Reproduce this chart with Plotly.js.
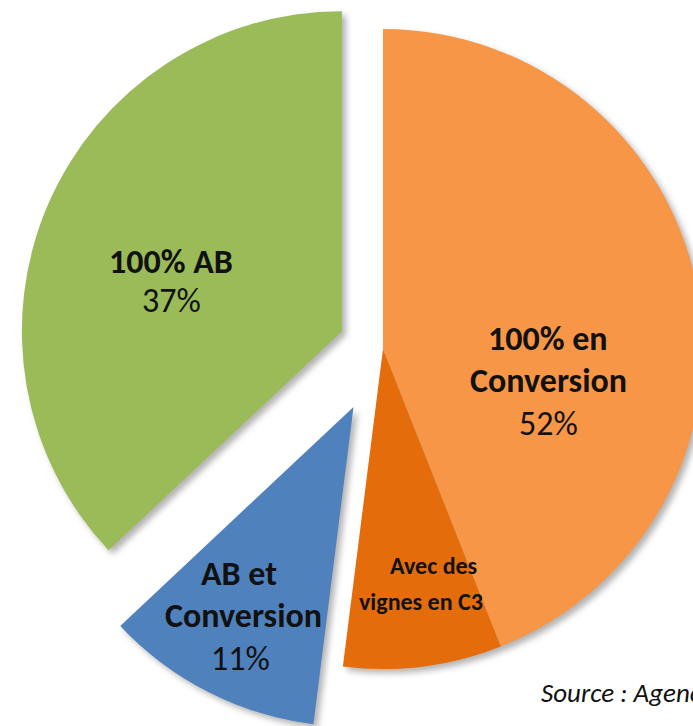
<!DOCTYPE html>
<html>
<head>
<meta charset="utf-8">
<script src="https://cdn.plot.ly/plotly-3.0.1.min.js"></script>
<style>
  html, body { margin: 0; padding: 0; background: #ffffff; overflow: hidden; width: 693px; height: 726px; }
  #chart { position: absolute; left: -100px; top: -100px; width: 900px; height: 900px; }
  #chart .main-svg:first-child { filter: drop-shadow(4px 4px 3px rgba(0,0,0,0.30)); }
</style>
</head>
<body>
<div id="chart"></div>
<script>
// ---- data ----
var categories = ['100% en Conversion', 'AB et Conversion', '100% AB'];
var shares = [52, 11, 37];              // % of total
var c3Label = 'Avec des vignes en C3';  // part of "100% en Conversion"
var c3Share = 8;                        // estimated share of the total (inside the 52%)
var sourceText = 'Source : Agence Bio';

// ---- layout constants (div is 900x900, offset -100,-100 relative to the viewport) ----
var W = 900, H = 900, OFF = 100;
var cx = 383 + OFF, cy = 349 + OFF, R = 320;
var pulls = [0, 0, 0.203, 0.14];
var maxPull = Math.max.apply(null, pulls);
var half = R * (1 + maxPull);
function px(x) { return (x + OFF) / W; }
function py(y) { return 1 - (y + OFF) / H; }

var colors = ['#F79646', '#E46C0A', '#4F81BD', '#9BBB59'];

var trace = {
  type: 'pie',
  labels: [categories[0], c3Label, categories[1], categories[2]],
  values: [shares[0] - c3Share, c3Share, shares[1], shares[2]],
  marker: { colors: colors, line: { width: 0 } },
  pull: pulls,
  sort: false,
  direction: 'clockwise',
  rotation: 0,
  textinfo: 'none',
  hoverinfo: 'none',
  showlegend: false,
  domain: { x: [(cx - half) / W, (cx + half) / W], y: [1 - (cy + half) / H, 1 - (cy - half) / H] }
};

var FONT = "Carlito, Calibri, 'Liberation Sans Narrow', 'DejaVu Sans Condensed', 'Open Sans', sans-serif";
function ann(x, y, text, size, extra) {
  var a = { xref: 'paper', yref: 'paper', x: px(x), y: py(y), text: text, showarrow: false,
    xanchor: 'center', yanchor: 'middle', align: 'center',
    font: { family: FONT, size: size, color: '#111111' } };
  if (extra) for (var k in extra) a[k] = extra[k];
  return a;
}

var annotations = [
  ann(171, 261, '<b>' + categories[2] + '</b>', 34),
  ann(171, 301, shares[2] + '%', 34),
  ann(548, 338, '<b>100% en</b>', 34),
  ann(548, 380, '<b>Conversion</b>', 34),
  ann(548, 423, shares[0] + '%', 34),
  ann(239, 573, '<b>AB et</b>', 34),
  ann(243, 615, '<b>Conversion</b>', 34),
  ann(240, 658, shares[1] + '%', 34),
  ann(433, 565, '<b>Avec des</b>', 24),
  ann(421, 601, '<b>vignes en C3</b>', 24),
  ann(539, 692, '<i>' + sourceText + '</i>', 27, { xanchor: 'left' })
];

var layout = {
  width: W, height: H,
  margin: { l: 0, r: 0, t: 0, b: 0 },
  paper_bgcolor: 'rgba(0,0,0,0)',
  plot_bgcolor: 'rgba(0,0,0,0)',
  annotations: annotations
};

Plotly.newPlot('chart', [trace], layout, { staticPlot: true, displayModeBar: false });
</script>
</body>
</html>
